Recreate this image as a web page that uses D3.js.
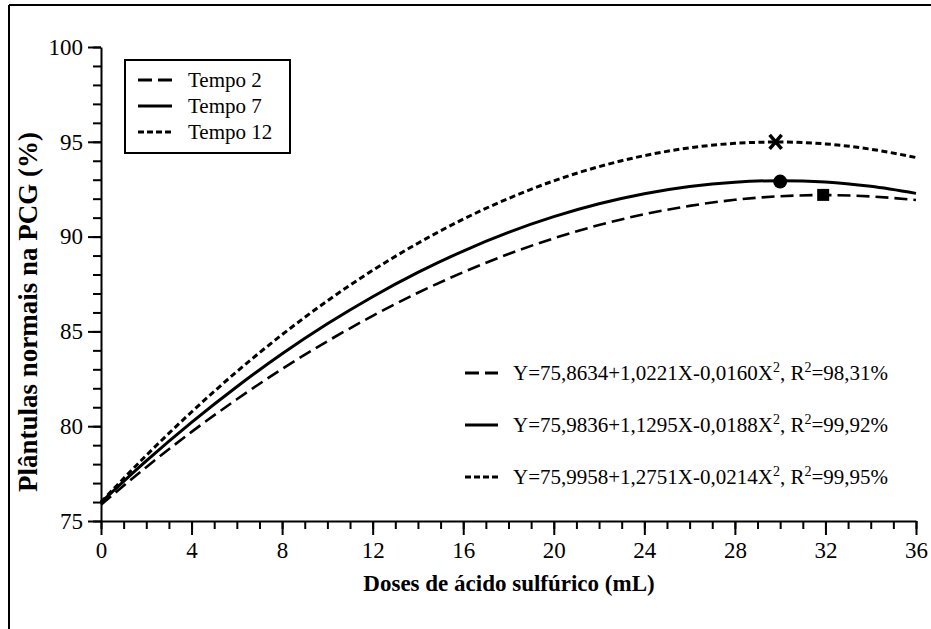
<!DOCTYPE html>
<html>
<head>
<meta charset="utf-8">
<script src="https://cdn.jsdelivr.net/npm/d3@7"></script>
<style>
body { margin: 0; background: #fff; }
svg { display: block; }
</style>
</head>
<body>
<svg id="chart" width="931" height="629"></svg>
<script>
// values, every 2 mL
var doses = [0, 2, 4, 6, 8, 10, 12, 14, 16, 18, 20, 22, 24, 26, 28, 30, 32, 34, 36];
var tempo2 = [75.86, 77.84, 79.70, 81.42, 83.02, 84.48, 85.82, 87.04, 88.12, 89.08, 89.91, 90.61, 91.18, 91.62, 91.94, 92.13, 92.19, 92.12, 91.93];
var tempo7 = [75.98, 78.17, 80.20, 82.08, 83.82, 85.40, 86.83, 88.11, 89.24, 90.22, 91.05, 91.73, 92.26, 92.64, 92.87, 92.95, 92.88, 92.65, 92.28];
var tempo12 = [76.00, 78.46, 80.75, 82.88, 84.83, 86.61, 88.22, 89.65, 90.92, 92.01, 92.94, 93.69, 94.27, 94.68, 94.92, 94.99, 94.89, 94.61, 94.17];

var seriesNames = ["Tempo 2", "Tempo 7", "Tempo 12"];
// maximum points marked on each curve
var maxDose = [31.9, 30.0, 29.8];
var maxValue = [92.2, 92.9, 95.0];

var eqMain = ["Y=75,8634+1,0221X-0,0160X", "Y=75,9836+1,1295X-0,0188X", "Y=75,9958+1,2751X-0,0214X"];
var eqR2 = ["=98,31%", "=99,92%", "=99,95%"];

var xTicks = [0, 4, 8, 12, 16, 20, 24, 28, 32, 36];
var yTicks = [75, 80, 85, 90, 95, 100];

var serif = "'Liberation Serif', 'Times New Roman', serif";
var svg = d3.select("#chart");

// outer frame (only top and left edges show in the picture)
svg.append("line").attr("x1", 9).attr("y1", 5).attr("x2", 931).attr("y2", 5)
	.attr("stroke", "#000").attr("stroke-width", 2);
svg.append("line").attr("x1", 9).attr("y1", 5).attr("x2", 9).attr("y2", 629)
	.attr("stroke", "#000").attr("stroke-width", 2);

var x = d3.scaleLinear().domain([0, 36]).range([101, 916]);
var y = d3.scaleLinear().domain([75, 100]).range([521, 47]);

var dashes = ["13,6", null, "6,3.5"];
var widths = [2.6, 3, 3];

// minor ticks
svg.append("g").attr("transform", "translate(0,521)")
	.call(d3.axisBottom(x).tickValues(d3.range(0, 37)).tickSize(8).tickFormat(""))
	.call(function(g){ g.select(".domain").remove(); });
svg.append("g").attr("transform", "translate(101,0)")
	.call(d3.axisLeft(y).tickValues(d3.range(75, 101)).tickSize(8).tickFormat(""))
	.call(function(g){ g.select(".domain").remove(); });

// major ticks and labels
svg.append("g").attr("transform", "translate(0,521)")
	.call(d3.axisBottom(x).tickValues(xTicks).tickSize(14).tickSizeOuter(0).tickPadding(7))
	.attr("font-family", serif).attr("font-size", 23);
svg.append("g").attr("transform", "translate(101,0)")
	.call(d3.axisLeft(y).tickValues(yTicks).tickSize(13).tickSizeOuter(0).tickPadding(5))
	.attr("font-family", serif).attr("font-size", 23);

svg.selectAll(".domain").attr("stroke-width", 2);
svg.selectAll(".tick line").attr("stroke-width", 2);

svg.append("text").attr("x", 509).attr("y", 591).attr("text-anchor", "middle")
	.attr("font-family", serif).attr("font-size", 23).attr("font-weight", "bold")
	.text("Doses de ácido sulfúrico (mL)");
svg.append("text").attr("transform", "translate(37,312) rotate(-90)").attr("text-anchor", "middle")
	.attr("font-family", serif).attr("font-size", 27).attr("font-weight", "bold")
	.text("Plântulas normais na PCG (%)");

// curves
var allSeries = [tempo2, tempo7, tempo12];
var line = d3.line()
	.x(function(d){ return x(d[0]); })
	.y(function(d){ return y(d[1]); })
	.curve(d3.curveMonotoneX);

for (var i = 0; i < allSeries.length; i++) {
	var pts = doses.map(function(dv, j){ return [dv, allSeries[i][j]]; });
	svg.append("path").datum(pts)
		.attr("d", line)
		.attr("fill", "none")
		.attr("stroke", "#000")
		.attr("stroke-width", widths[i])
		.attr("stroke-dasharray", dashes[i]);
}

// markers at the maxima
svg.append("rect")
	.attr("x", x(maxDose[0]) - 6).attr("y", y(maxValue[0]) - 6)
	.attr("width", 12).attr("height", 12).attr("fill", "#000");
svg.append("circle")
	.attr("cx", x(maxDose[1])).attr("cy", y(maxValue[1])).attr("r", 7).attr("fill", "#000");
var cx = x(maxDose[2]), cy = y(maxValue[2]);
svg.append("path")
	.attr("d", "M" + (cx - 6) + "," + (cy - 7) + "L" + (cx + 6) + "," + (cy + 7) +
		"M" + (cx + 6) + "," + (cy - 7) + "L" + (cx - 6) + "," + (cy + 7))
	.attr("stroke", "#000").attr("stroke-width", 3.5).attr("fill", "none");

// legend box
svg.append("rect").attr("x", 125).attr("y", 60).attr("width", 165).attr("height", 93)
	.attr("fill", "#fff").attr("stroke", "#000").attr("stroke-width", 2);
var legendDash = ["14,6", null, "6,3"];
for (var i = 0; i < seriesNames.length; i++) {
	var ly = 80 + i * 26;
	svg.append("line").attr("x1", 138).attr("x2", 172).attr("y1", ly).attr("y2", ly)
		.attr("stroke", "#000").attr("stroke-width", 3)
		.attr("stroke-dasharray", legendDash[i]);
	svg.append("text").attr("x", 188).attr("y", ly + 7)
		.attr("font-family", serif).attr("font-size", 21).text(seriesNames[i]);
}

// equations
for (var i = 0; i < eqMain.length; i++) {
	var ey = 373 + i * 52;
	svg.append("line").attr("x1", 465).attr("x2", 498).attr("y1", ey).attr("y2", ey)
		.attr("stroke", "#000").attr("stroke-width", 3)
		.attr("stroke-dasharray", legendDash[i]);
	var t = svg.append("text").attr("x", 513).attr("y", ey + 7)
		.attr("font-family", serif).attr("font-size", 21);
	t.append("tspan").text(eqMain[i]);
	t.append("tspan").attr("dy", -8).attr("font-size", 14).text("2");
	t.append("tspan").attr("dy", 8).text(", R");
	t.append("tspan").attr("dy", -8).attr("font-size", 14).text("2");
	t.append("tspan").attr("dy", 8).text(eqR2[i]);
}
</script>
</body>
</html>
